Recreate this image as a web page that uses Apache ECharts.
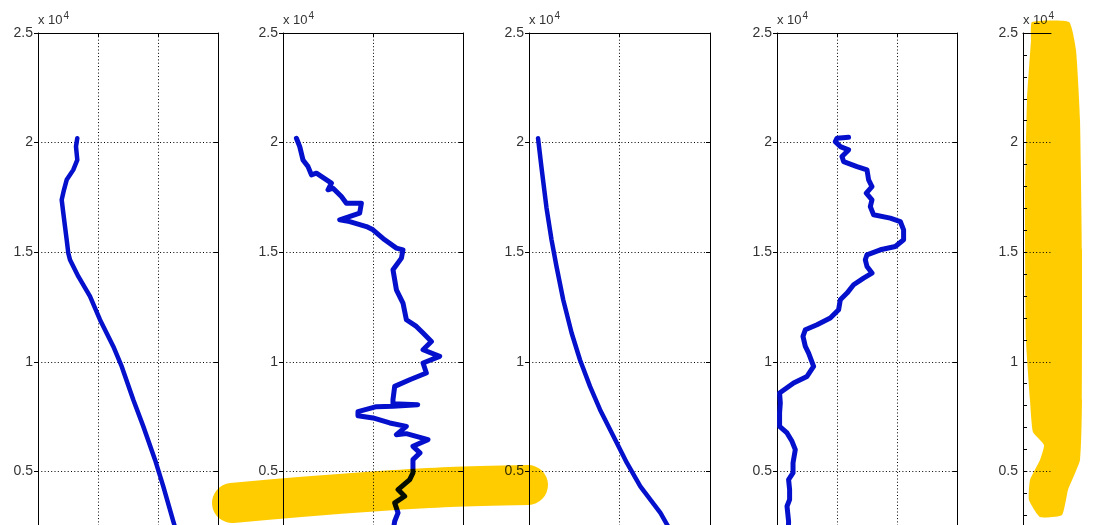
<!DOCTYPE html>
<html><head><meta charset="utf-8">
<script src="https://cdn.jsdelivr.net/npm/echarts@6/dist/echarts.min.js"></script>
<style>html,body{margin:0;padding:0;background:#fff;}#c{width:1093px;height:525px;}</style>
</head><body><div id="c"></div>
<script>
// ---- axis data ----
const yMin = 0, yMax = 25000, yStep = 5000;
const yTickLabels = ['0', '0.5', '1', '1.5', '2', '2.5'];
const yScaleBase = 'x 10';
const yScaleExp = '4';
const xMaxes = [3, 2, 2, 3, 1];

// ---- series data (x in panel units, y = depth) ----
const p1X = [0.655,0.633,0.655,0.588,0.478,0.433,0.395,0.422,0.45,0.478,0.505,0.533,0.672,0.867,1.033,1.255,1.395,1.588,1.755,1.95,2.088,2.255,2.367];
const p1Y = [20200,19818,19211,18756,18300,17844,17388,16782,16171,15565,14959,14653,13892,12981,11919,10701,9790,8272,7055,5537,4320,2725,1663];

const p2X = [0.149,0.186,0.222,0.278,0.316,0.371,0.538,0.5,0.556,0.649,0.704,0.871,0.852,0.63,0.741,0.927,1.0,1.13,1.26,1.333,1.316,1.297,1.222,1.26,1.333,1.371,1.482,1.556,1.649,1.556,1.741,1.556,1.593,1.408,1.241,1.222,1.222,1.497,1.222,1.038,0.833,0.833,1.0,1.186,1.371,1.26,1.371,1.611,1.444,1.522,1.444,1.444,1.408,1.278,1.352,1.241,1.278,1.241,1.208];
const p2Y = [20200,19817,19211,18906,18528,18605,18149,17844,17921,17539,17238,17238,16782,16477,16399,16171,16021,15565,15187,15109,14731,14653,14198,13286,12680,11919,11613,11312,10929,10551,10246,9945,9489,9183,8878,8272,8090,8044,7976,7953,7725,7543,7438,7210,7055,6677,6723,6449,6144,5843,5537,4931,4626,4170,3865,3564,3108,2725,1891];

const p3X = [0.1,0.138,0.193,0.249,0.304,0.378,0.471,0.563,0.674,0.785,0.933,1.082,1.23,1.452,1.619];
const p3Y = [20200,18860,17037,15565,14348,12830,11312,10095,8878,7816,6599,5387,4320,3108,1891];

const p4X = [1.193,1.0,0.972,1.055,1.193,1.083,1.11,1.333,1.5,1.527,1.583,1.488,1.583,1.555,1.61,1.888,2.055,2.11,2.11,1.972,1.722,1.5,1.472,1.5,1.583,1.443,1.277,1.167,1.055,1.027,0.888,0.667,0.472,0.433,0.472,0.527,0.61,0.5,0.277,0.043,0.055,0.043,0.043,0.167,0.25,0.305,0.267,0.267,0.193,0.21,0.21,0.167,0.193,0.188];
const p4Y = [20246,20200,20045,19818,19667,19362,19134,18906,18756,18300,17994,17693,17388,17083,16705,16554,16399,16021,15565,15260,15109,14881,14653,14348,14047,13819,13514,13135,12830,12374,11996,11691,11463,11157,10701,10401,9790,9334,9033,8578,8122,7666,7055,6754,6371,5993,5387,4931,4626,4170,3714,3409,2725,1891];

const panelsX = [p1X, p2X, p3X, p4X];
const panelsY = [p1Y, p2Y, p3Y, p4Y];

// ---- layout / style ----
const lefts = [38, 283, 529, 777, 1023];
const widths = [180, 180, 181, 180, 28];
const gridTop = 33, gridHeight = 548;
const blue = '#0510CC';
const font = 'Liberation Sans, Arial, sans-serif';
const dot = [1, 2.3];

const grids = [], xAxes = [], yAxes = [], series = [];
for (let i = 0; i < 5; i++) {
  grids.push({left: lefts[i], top: gridTop, width: widths[i], height: gridHeight, containLabel: false, outerBoundsMode: 'none'});
  xAxes.push({
    gridIndex: i, type: 'value', position: 'top', min: 0, max: xMaxes[i], interval: 1,
    axisLine: {show: true, onZero: false, lineStyle: {color: '#000', width: 1}},
    axisTick: {show: i < 4, inside: true, length: 4, lineStyle: {color: '#000'}},
    axisLabel: {show: false},
    splitLine: {show: i < 4, lineStyle: {color: '#000', type: dot, width: 1}}
  });
  const leftIdx = yAxes.length;
  yAxes.push({
    gridIndex: i, type: 'value', position: 'left', min: yMin, max: yMax, interval: yStep,
    name: '{b|' + yScaleBase + '}{s|' + yScaleExp + '}',
    nameLocation: 'end', nameGap: 5,
    nameTextStyle: {align: 'left', verticalAlign: 'bottom', padding: [0, 0, 0, 0],
      rich: {
        b: {fontSize: 13, fontFamily: font, color: '#333', lineHeight: 15},
        s: {fontSize: 10, fontFamily: font, color: '#333', padding: [0, 0, 9, 1], lineHeight: 10}
      }},
    axisLine: {show: true, onZero: false, lineStyle: {color: '#000', width: 1}},
    axisTick: {show: true, inside: i === 4, length: 4, lineStyle: {color: '#000'}},
    minorTick: {show: i === 4, splitNumber: 5, length: 4, lineStyle: {color: '#000'}},
    axisLabel: {show: true, margin: 5, fontSize: 14, color: '#333', fontFamily: font,
      formatter: v => yTickLabels[Math.round((v - yMin) / yStep)]},
    splitLine: {show: true, lineStyle: {color: '#000', type: dot, width: 1}}
  });
  if (i < 4) {
    yAxes.push({
      gridIndex: i, type: 'value', position: 'right', min: yMin, max: yMax, interval: yStep,
      axisLine: {show: true, onZero: false, lineStyle: {color: '#000', width: 1}},
      axisTick: {show: true, inside: true, length: 4, lineStyle: {color: '#000'}},
      axisLabel: {show: false}, splitLine: {show: false}
    });
    series.push({
      type: 'line', xAxisIndex: i, yAxisIndex: leftIdx,
      data: panelsX[i].map((x, k) => [x, panelsY[i][k]]),
      showSymbol: false, symbol: 'none', smooth: false,
      lineStyle: {color: blue, width: i === 1 || i === 3 ? 5 : 4.5, join: 'round', cap: 'round'},
      silent: true
    });
  }
}

const chart = echarts.init(document.getElementById('c'), null, {renderer: 'canvas'});
chart.setOption({
  animation: false,
  backgroundColor: '#fff',
  grid: grids, xAxis: xAxes, yAxis: yAxes, series: series,
  graphic: [
    {type: 'polyline', z: 100, silent: true,
      shape: {points: [[232, 503], [300, 497], [380, 491], [450, 487], [528, 485]], smooth: 0.3},
      style: {stroke: '#FFCC00', lineWidth: 40, lineCap: 'round', lineJoin: 'round', fill: null, blend: 'multiply'}},
    {type: 'polygon', z: 100, silent: true,
      shape: {points: [[1032, 22], [1069, 22], [1076, 50], [1080, 120], [1082, 250], [1082, 400], [1080, 460], [1068, 490], [1062, 515], [1040, 517], [1029, 500], [1030, 480], [1040, 460], [1044, 445], [1033, 432], [1030, 400], [1026, 340], [1025, 200], [1027, 100], [1031, 40]], smooth: 0.15},
      style: {fill: '#FFCC00', blend: 'multiply'}}
  ]
});
</script></body></html>
